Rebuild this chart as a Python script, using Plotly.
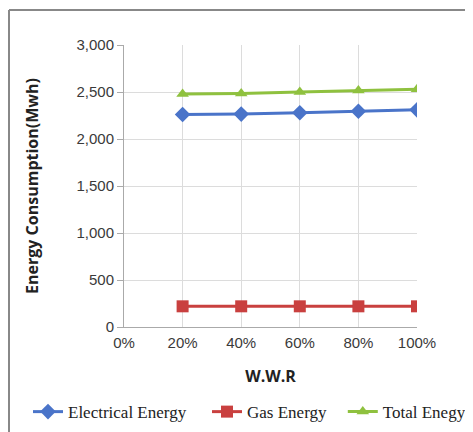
import plotly.graph_objects as go

wwr = [20, 40, 60, 80, 100]
x_ticks = [0, 20, 40, 60, 80, 100]
x_tick_labels = ["0%", "20%", "40%", "60%", "80%", "100%"]
electrical = [2260, 2265, 2280, 2295, 2310]
gas = [220, 220, 220, 220, 220]
total = [2480, 2485, 2500, 2515, 2530]
y_ticks = [0, 500, 1000, 1500, 2000, 2500, 3000]
y_tick_labels = ["0", "500", "1,000", "1,500", "2,000", "2,500", "3,000"]

tick_font = dict(family="Liberation Sans", size=15, color="#3a3a3a")

fig = go.Figure()
fig.add_trace(go.Scatter(x=wwr, y=electrical, name="Electrical Energy", mode="lines+markers",
                         legend="legend",
                         line=dict(color="#4a74c9", width=3),
                         marker=dict(symbol="diamond", size=12, color="#4a74c9")))
fig.add_trace(go.Scatter(x=wwr, y=gas, name="Gas Energy", mode="lines+markers",
                         legend="legend2",
                         line=dict(color="#c9403f", width=3),
                         marker=dict(symbol="square", size=12, color="#c9403f")))
fig.add_trace(go.Scatter(x=wwr, y=total, name="Total Enegy", mode="lines+markers",
                         legend="legend3",
                         line=dict(color="#8fc13f", width=3),
                         marker=dict(symbol="triangle-up", size=11, color="#8fc13f")))

legend_common = dict(orientation="h", xref="container", yref="container",
                     xanchor="left", y=0.047, yanchor="middle",
                     font=dict(family="Liberation Serif", size=17, color="#222"),
                     itemwidth=30, bgcolor="rgba(0,0,0,0)", borderwidth=0)

fig.update_layout(
    width=465, height=424,
    margin=dict(l=116, r=56, t=37, b=105, autoexpand=False),
    paper_bgcolor="white", plot_bgcolor="white",
    font=dict(family="Liberation Serif", size=12, color="#333"),
    showlegend=True,
    legend=dict(legend_common, x=0.043),
    legend2=dict(legend_common, x=0.428),
    legend3=dict(legend_common, x=0.720),
    xaxis=dict(range=[0, 100], tickvals=x_ticks, ticktext=x_tick_labels,
               showgrid=True, gridcolor="#dcdcdc", gridwidth=1,
               showline=True, linecolor="#aaa", linewidth=1,
               ticks="outside", ticklen=2, tickcolor="rgba(0,0,0,0)",
               tickfont=tick_font,
               title=dict(text="<b>W.W.R</b>", standoff=20,
                          font=dict(family="Open Sans", size=16, color="#222")),
               zeroline=False),
    yaxis=dict(range=[0, 3000], tickvals=y_ticks, ticktext=y_tick_labels,
               showgrid=True, gridcolor="#dcdcdc", gridwidth=1,
               showline=True, linecolor="#aaa", linewidth=1,
               ticks="outside", ticklen=6, tickcolor="#aaa",
               tickfont=tick_font,
               title=dict(text="<b>Energy Consumption(Mwh)</b>", standoff=33,
                          font=dict(family="Open Sans", size=16, color="#222")),
               zeroline=False),
)

# chart-area frame (left and top edges visible in the reference)
fig.add_shape(type="line", xref="paper", yref="paper", x0=-0.3925, x1=-0.3925, y0=-0.4, y1=1.124,
              line=dict(color="#888", width=2))
fig.add_shape(type="line", xref="paper", yref="paper", x0=-0.3925, x1=1.2, y0=1.124, y1=1.124,
              line=dict(color="#888", width=2))

fig.write_html("out.html")
